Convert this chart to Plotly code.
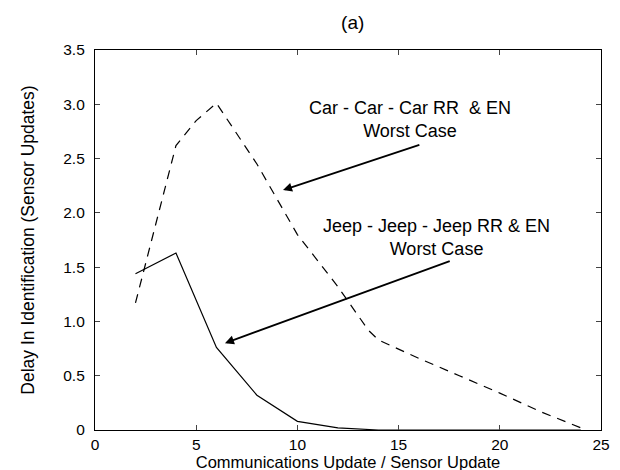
import plotly.graph_objects as go

car_x = [2, 3, 4, 5, 6, 8, 10, 12, 13.5, 14, 16, 18, 20, 22, 24]
car_y = [1.17, 1.90, 2.62, 2.85, 3.01, 2.45, 1.80, 1.32, 0.92, 0.83, 0.66, 0.50, 0.34, 0.17, 0.02]

jeep_x = [2, 4, 6, 8, 10, 12, 14, 16, 18, 20, 22, 24]
jeep_y = [1.44, 1.63, 0.76, 0.32, 0.08, 0.02, 0.0, 0.0, 0.0, 0.0, 0.0, 0.0]

x_ticks = [0, 5, 10, 15, 20, 25]
y_ticks = [0, 0.5, 1.0, 1.5, 2.0, 2.5, 3.0, 3.5]
y_labels = ["0", "0.5", "1.0", "1.5", "2.0", "2.5", "3.0", "3.5"]

FAM = "Liberation Sans, Arial, Helvetica, sans-serif"
tick_font = dict(family=FAM, size=15.5, color="black")
ann_font = dict(family=FAM, size=18, color="black")

fig = go.Figure()
fig.add_trace(go.Scatter(x=car_x, y=car_y, mode="lines",
                         line=dict(color="black", width=1.2, dash="9px,7px"),
                         showlegend=False))
fig.add_trace(go.Scatter(x=jeep_x, y=jeep_y, mode="lines",
                         line=dict(color="black", width=1.2),
                         showlegend=False))

annotations = [
    dict(x=15.56, y=2.86, xref="x", yref="y", showarrow=False,
         text="Car - Car - Car RR  & EN<br>Worst Case", font=ann_font, align="center"),
    dict(x=16.85, y=1.77, xref="x", yref="y", showarrow=False,
         text="Jeep - Jeep - Jeep RR & EN<br>Worst Case", font=ann_font, align="center"),
    dict(x=9.29, y=2.21, ax=16.1, ay=2.63, xref="x", yref="y", axref="x", ayref="y",
         text="", showarrow=True, arrowhead=2, arrowsize=1, arrowwidth=1.8, arrowcolor="black"),
    dict(x=6.42, y=0.80, ax=17.6, ay=1.56, xref="x", yref="y", axref="x", ayref="y",
         text="", showarrow=True, arrowhead=2, arrowsize=1, arrowwidth=1.8, arrowcolor="black"),
]

fig.update_layout(
    width=620, height=470,
    margin=dict(l=87, r=27, t=42, b=48),
    paper_bgcolor="white", plot_bgcolor="white",
    font=tick_font,
    title=dict(text="(a)", x=0.556, xanchor="center", y=0.97, yanchor="middle",
               font=dict(family=FAM, size=19, color="black")),
    annotations=annotations,
    xaxis=dict(range=[0, 25], tickvals=x_ticks, ticks="inside", ticklen=5,
               showline=True, linecolor="black", linewidth=1.2, mirror="ticks",
               showgrid=False, zeroline=False, automargin=False,
               title=dict(text="Communications Update / Sensor Update", standoff=0,
                          font=dict(family=FAM, size=16.5, color="black")),
               tickfont=tick_font),
    yaxis=dict(range=[0, 3.5], tickvals=y_ticks, ticktext=y_labels, ticks="inside", ticklen=5,
               ticklabelstandoff=6,
               showline=True, linecolor="black", linewidth=1.2, mirror="ticks",
               showgrid=False, zeroline=False, automargin=False,
               title=dict(text="Delay In Identification (Sensor Updates)", standoff=24,
                          font=dict(family=FAM, size=17.5, color="black")),
               tickfont=tick_font),
)

fig.write_html("out.html")
